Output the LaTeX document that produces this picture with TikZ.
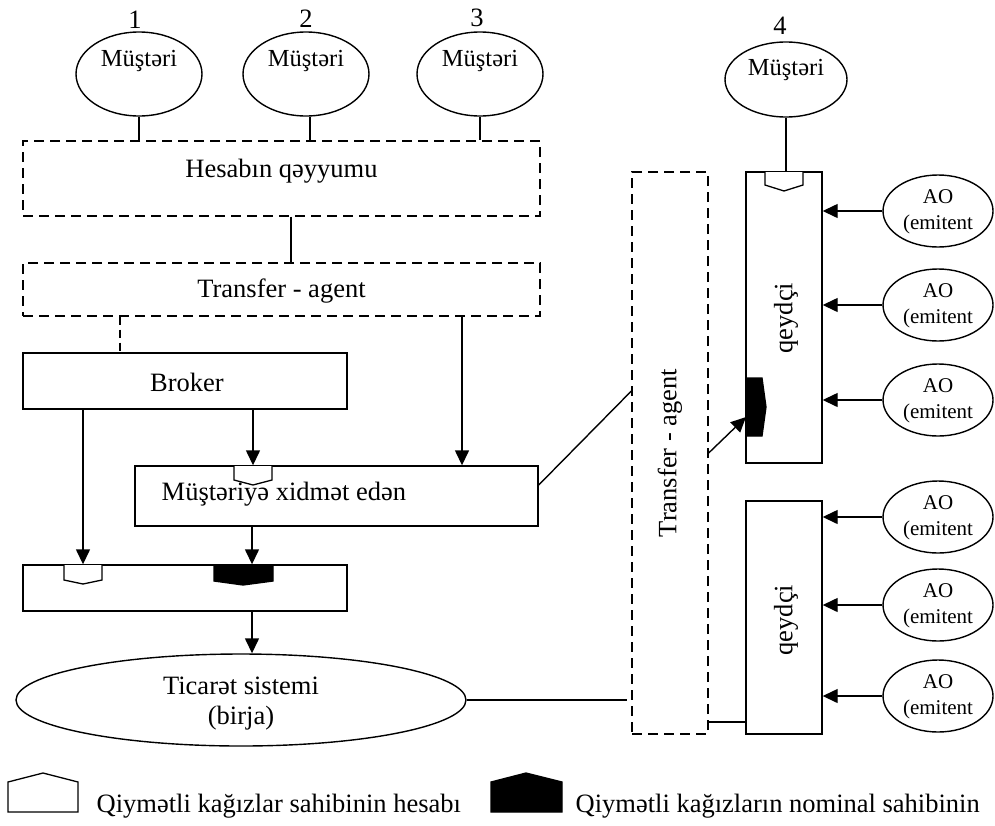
\documentclass[tikz,border=0pt]{standalone}
\usepackage{fontspec}
\setmainfont{Liberation Serif}
\usetikzlibrary{arrows.meta,shapes.geometric,calc}

\begin{document}
\begin{tikzpicture}[x=1pt,y=-1pt,line width=1.4pt,
  box/.style={draw,rectangle,inner sep=0pt},
  dbox/.style={box,dash pattern=on 10pt off 6pt,line width=1.3pt},
  oval/.style={draw,ellipse,inner sep=0pt},
  lbl/.style={inner sep=0pt,font=\fontsize{26.5}{30}\selectfont},
  cli/.style={inner sep=0pt,font=\fontsize{24.5}{28}\selectfont},
  aot/.style={inner sep=0pt,align=center,font=\fontsize{21}{25.5}\selectfont},
  arr/.style={-{Triangle[length=15pt,width=14pt]}},
  openmark/.style={draw,fill=white,line width=1.3pt},
  fullmark/.style={draw,fill=black,line width=1.3pt}]

\useasboundingbox (0,0) rectangle (995,825);

% clients on top
\node[oval,minimum width=126pt,minimum height=84pt] (e1) at (139,74) {};
\node[oval,minimum width=126pt,minimum height=84pt] (e2) at (306,74) {};
\node[oval,minimum width=126pt,minimum height=84pt] (e3) at (480,74) {};
\node[cli] (e1t) at (139,61) {Müştəri};
\node[cli] (e2t) at (306,61) {Müştəri};
\node[cli] (e3t) at (480,61) {Müştəri};
\node[lbl,anchor=base] (n1) at (135,28) {1};
\node[lbl,anchor=base] (n2) at (306,27) {2};
\node[lbl,anchor=base] (n3) at (477,26) {3};

\node[oval,minimum width=122pt,minimum height=75pt] (e4) at (786,79.5) {};
\node[cli] (e4t) at (786,70) {Müştəri};
\node[lbl,anchor=base] (n4) at (780,34) {4};

% left column of boxes
\node[dbox,minimum width=517pt,minimum height=75pt] (hes) at (281.5,178.5) {};
\node[lbl] (hest) at (281.5,171) {Hesabın qəyyumu};
\node[dbox,minimum width=517pt,minimum height=53pt] (ta) at (281.5,289.5) {};
\node[lbl] (tat) at (281.5,291) {Transfer - agent};
\node[box,minimum width=324pt,minimum height=56pt] (br) at (185,381) {};
\node[lbl] (brt) at (187,382) {Broker};
\node[box,minimum width=403pt,minimum height=60pt] (mx) at (336.5,496) {};
\node[lbl,anchor=west] (mxt) at (161,494) {Müştəriyə xidmət edən};
\node[box,minimum width=324pt,minimum height=46pt] (bot) at (185,588) {};
\node[oval,minimum width=450pt,minimum height=92pt] (tic) at (241,700) {};
\node[lbl,align=center] (tict) at (241,704) {Ticarət sistemi\\(birja)};

% right part
\node[dbox,minimum width=76pt,minimum height=562pt] (tav) at (670,453) {};
\node[lbl,rotate=90] (tavt) at (670,453) {Transfer - agent};
\node[box,minimum width=76pt,minimum height=291pt] (q1) at (784,317.5) {};
\node[lbl,rotate=90] (q1t) at (786,318) {qeydçi};
\node[box,minimum width=76pt,minimum height=233pt] (q2) at (784,617.5) {};
\node[lbl,rotate=90] (q2t) at (786,620) {qeydçi};

\foreach \n/\y in {a1/211,a2/305,a3/400,a4/517,a5/605,a6/696}{
  \node[oval,minimum width=110pt,minimum height=72pt] (\n) at (938,\y) {};
  \node[aot] (\n t) at (938,\y+1) {AO\\(emitent};
}

% account marks
\draw[openmark] (234,466) -- (234,480) -- (253,485) -- (272,480) -- (272,466);
\draw[openmark] (64,565) -- (64,580) -- (83,584) -- (102,580) -- (102,565);
\draw[fullmark] (214,565) -- (214,581) -- (243,585) -- (273,581) -- (273,565) -- cycle;
\draw[openmark] (765,172) -- (765,185) -- (784,191) -- (803,185) -- (803,172);
\draw[fullmark] (746,378) -- (762,378) -- (766,407) -- (762,436) -- (746,436) -- cycle;
\coordinate (mk) at (746,417);

% connectors
\draw (e1.south) -- (e1.south |- hes.north);
\draw (e2.south -| 310,0) -- (310,141);
\draw (e3.south) -- (e3.south |- hes.north);
\draw (hes.south -| 291,0) -- (ta.north -| 291,0);
\draw[dash pattern=on 8pt off 5pt] (ta.south -| 120,0) -- (br.north -| 120,0);
\draw[arr] (ta.south -| 462,0) -- (mx.north -| 462,0);
\draw[arr] (br.south -| 253,0) -- (mx.north -| 253,0);
\draw[arr] (br.south -| 83,0) -- (bot.north -| 83,0);
\draw[arr] (mx.south -| 252,0) -- (bot.north -| 252,0);
\draw[arr] (bot.south -| 252,0) -- (tic.north -| 252,0);
\coordinate (tagap) at (627,700);
\draw (tic.east) -- (tagap);
\draw ($(mx.east)+(0,-11)$) -- ($(tav.west)+(0,-62)$);
\draw[arr] (tav.east) -- (mk);
\draw ($(tav.east)+(0,269)$) -- ($(q2.west)+(0,104.5)$);
\draw (e4.south) -- (e4.south |- q1.north);
\foreach \n/\q in {a1/q1,a2/q1,a3/q1,a4/q2,a5/q2,a6/q2}
  \draw[arr] (\n.west) -- (\n.west -| \q.east);

% legend
\draw[openmark] (8,812) -- (8,782) -- (43,773) -- (78,782) -- (78,812) -- cycle;
\node[lbl,anchor=base west] (lg1) at (96,812) {Qiymətli kağızlar sahibinin hesabı};
\draw[fullmark] (491,812) -- (491,782) -- (526,773) -- (562,782) -- (562,812) -- cycle;
\node[lbl,anchor=base west] (lg2) at (575,812) {Qiymətli kağızların nominal sahibinin};
\end{tikzpicture}
\end{document}
